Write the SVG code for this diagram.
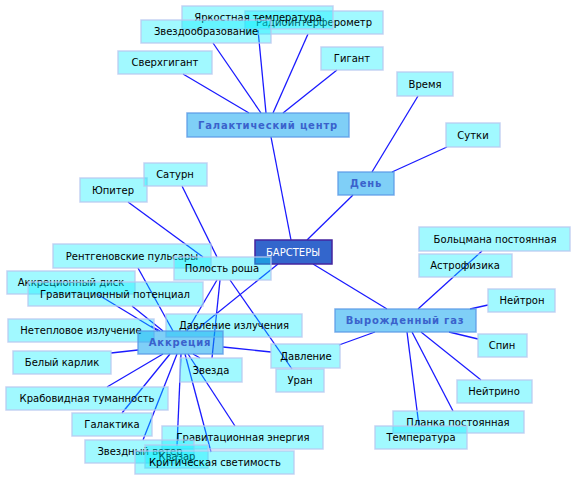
<svg xmlns="http://www.w3.org/2000/svg" width="576" height="481" viewBox="0 0 576 481">
<style>
  .leaf rect { fill: #00eeff; fill-opacity: 0.37; stroke: #b8c8f0; stroke-opacity: 0.8; stroke-width: 1.5; }
  .hub rect { fill: #00a0f0; fill-opacity: 0.5; stroke: #5a9ae6; stroke-opacity: 0.8; stroke-width: 1.5; }
  .root rect { fill: #3366cc; stroke: #45259e; stroke-width: 1.5; }
  text { font-family: "DejaVu Sans", "Liberation Sans", sans-serif; font-size: 10px; text-anchor: middle; }
  .leaf text { fill: #000000; }
  .hub text { fill: #3a62cc; font-weight: bold; letter-spacing: 0.8px; }
  .root text { fill: #ffffff; }
  #connectors line { stroke: #1a1aff; stroke-width: 1.3; }
</style>
<rect width="576" height="481" fill="#ffffff"/>
<g id="connectors">
  <line x1="183" y1="74" x2="249" y2="113"/>
  <line x1="213" y1="43" x2="261" y2="113"/>
  <line x1="258" y1="30" x2="266" y2="113"/>
  <line x1="308" y1="34" x2="273" y2="113"/>
  <line x1="337" y1="70" x2="283" y2="113"/>
  <line x1="271" y1="137" x2="291" y2="240"/>
  <line x1="418" y1="96" x2="372" y2="172"/>
  <line x1="447" y1="147" x2="392" y2="172"/>
  <line x1="353" y1="195" x2="307" y2="240"/>
  <line x1="313" y1="264" x2="387" y2="309"/>
  <line x1="482" y1="251" x2="418" y2="309"/>
  <line x1="488" y1="305" x2="470" y2="309"/>
  <line x1="478" y1="339" x2="449" y2="332"/>
  <line x1="375" y1="332" x2="339" y2="345"/>
  <line x1="421" y1="332" x2="481" y2="380"/>
  <line x1="412" y1="332" x2="453" y2="411"/>
  <line x1="407" y1="332" x2="419" y2="426"/>
  <line x1="182" y1="186" x2="217" y2="257"/>
  <line x1="128" y1="202" x2="203" y2="257"/>
  <line x1="220" y1="280" x2="212" y2="358"/>
  <line x1="230" y1="280" x2="292" y2="369"/>
  <line x1="217" y1="280" x2="187" y2="331"/>
  <line x1="278" y1="264" x2="195" y2="331"/>
  <line x1="138" y1="268" x2="173" y2="331"/>
  <line x1="97" y1="294" x2="158" y2="331"/>
  <line x1="132" y1="306" x2="163" y2="331"/>
  <line x1="151" y1="326" x2="160" y2="331"/>
  <line x1="111" y1="353" x2="138" y2="350"/>
  <line x1="107" y1="387" x2="163" y2="354"/>
  <line x1="122" y1="413" x2="170" y2="354"/>
  <line x1="143" y1="440" x2="177" y2="354"/>
  <line x1="177" y1="446" x2="181" y2="354"/>
  <line x1="211" y1="452" x2="185" y2="354"/>
  <line x1="235" y1="426" x2="188" y2="354"/>
  <line x1="193" y1="354" x2="200" y2="358"/>
  <line x1="223" y1="347" x2="271" y2="352"/>
</g>
<g id="n-radio" class="leaf"><rect x="245" y="11" width="138" height="23"/><text x="314" y="26">Радиоинтерферометр</text></g>
<g id="n-yarkost" class="leaf"><rect x="182" y="6" width="151" height="23"/><text x="258" y="21">Яркостная температура</text></g>
<g id="n-zvezdoobr" class="leaf"><rect x="141" y="20" width="130" height="23"/><text x="206" y="35">Звездообразование</text></g>
<g id="n-sverhgigant" class="leaf"><rect x="118" y="51" width="94" height="23"/><text x="165" y="66">Сверхгигант</text></g>
<g id="n-gigant" class="leaf"><rect x="321" y="47" width="62" height="23"/><text x="352" y="62">Гигант</text></g>
<g id="n-galcenter" class="hub"><rect x="187" y="113" width="162" height="24"/><text x="268" y="129">Галактический центр</text></g>
<g id="n-vremya" class="leaf"><rect x="397" y="72" width="56" height="24"/><text x="425" y="88">Время</text></g>
<g id="n-sutki" class="leaf"><rect x="446" y="123" width="54" height="24"/><text x="473" y="139">Сутки</text></g>
<g id="n-den" class="hub"><rect x="338" y="172" width="56" height="23"/><text x="366" y="187">День</text></g>
<g id="n-barstery" class="root"><rect x="255" y="240" width="77" height="24"/><text x="293" y="256">БАРСТЕРЫ</text></g>
<g id="n-yupiter" class="leaf"><rect x="80" y="178" width="67" height="24"/><text x="113" y="194">Юпитер</text></g>
<g id="n-saturn" class="leaf"><rect x="144" y="163" width="63" height="23"/><text x="175" y="178">Сатурн</text></g>
<g id="n-rentgen" class="leaf"><rect x="53" y="244" width="158" height="24"/><text x="132" y="260">Рентгеновские пульсары</text></g>
<g id="n-polost" class="leaf"><rect x="174" y="257" width="97" height="23"/><text x="222" y="272">Полость роша</text></g>
<g id="n-akkrdisk" class="leaf"><rect x="7" y="271" width="128" height="23"/><text x="71" y="286">Аккреционный диск</text></g>
<g id="n-gravpot" class="leaf"><rect x="28" y="282" width="175" height="24"/><text x="115" y="298">Гравитационный потенциал</text></g>
<g id="n-neteplo" class="leaf"><rect x="8" y="319" width="146" height="23"/><text x="81" y="334">Нетепловое излучение</text></g>
<g id="n-davlizl" class="leaf"><rect x="166" y="314" width="136" height="23"/><text x="234" y="329">Давление излучения</text></g>
<g id="n-akkreciya" class="hub"><rect x="138" y="331" width="85" height="23"/><text x="180" y="346">Аккреция</text></g>
<g id="n-belkarlik" class="leaf"><rect x="13" y="351" width="98" height="23"/><text x="62" y="366">Белый карлик</text></g>
<g id="n-zvezda" class="leaf"><rect x="180" y="358" width="62" height="24"/><text x="211" y="374">Звезда</text></g>
<g id="n-davlenie" class="leaf"><rect x="271" y="344" width="69" height="24"/><text x="306" y="360">Давление</text></g>
<g id="n-uran" class="leaf"><rect x="276" y="369" width="48" height="23"/><text x="300" y="384">Уран</text></g>
<g id="n-vyrozhd" class="hub"><rect x="335" y="309" width="141" height="23"/><text x="405" y="324">Вырожденный газ</text></g>
<g id="n-bolcman" class="leaf"><rect x="419" y="227" width="151" height="24"/><text x="495" y="243">Больцмана постоянная</text></g>
<g id="n-astrofiz" class="leaf"><rect x="419" y="254" width="93" height="23"/><text x="465" y="269">Астрофизика</text></g>
<g id="n-neytron" class="leaf"><rect x="488" y="289" width="67" height="23"/><text x="522" y="304">Нейтрон</text></g>
<g id="n-spin" class="leaf"><rect x="478" y="334" width="49" height="23"/><text x="502" y="349">Спин</text></g>
<g id="n-neytrino" class="leaf"><rect x="457" y="380" width="75" height="23"/><text x="494" y="395">Нейтрино</text></g>
<g id="n-planck" class="leaf"><rect x="393" y="411" width="131" height="22"/><text x="458" y="426">Планка постоянная</text></g>
<g id="n-temperatura" class="leaf"><rect x="375" y="426" width="92" height="23"/><text x="421" y="441">Температура</text></g>
<g id="n-krab" class="leaf"><rect x="6" y="387" width="162" height="23"/><text x="87" y="402">Крабовидная туманность</text></g>
<g id="n-galaktika" class="leaf"><rect x="72" y="413" width="80" height="23"/><text x="112" y="428">Галактика</text></g>
<g id="n-graven" class="leaf"><rect x="162" y="426" width="161" height="23"/><text x="243" y="441">Гравитационная энергия</text></g>
<g id="n-zvveter" class="leaf"><rect x="85" y="440" width="109" height="23"/><text x="140" y="455">Звездный ветер</text></g>
<g id="n-kvazar" class="leaf"><rect x="145" y="445" width="63" height="23"/><text x="177" y="460">Квазар</text></g>
<g id="n-kritsvet" class="leaf"><rect x="135" y="451" width="159" height="23"/><text x="215" y="466">Критическая светимость</text></g>
</svg>
